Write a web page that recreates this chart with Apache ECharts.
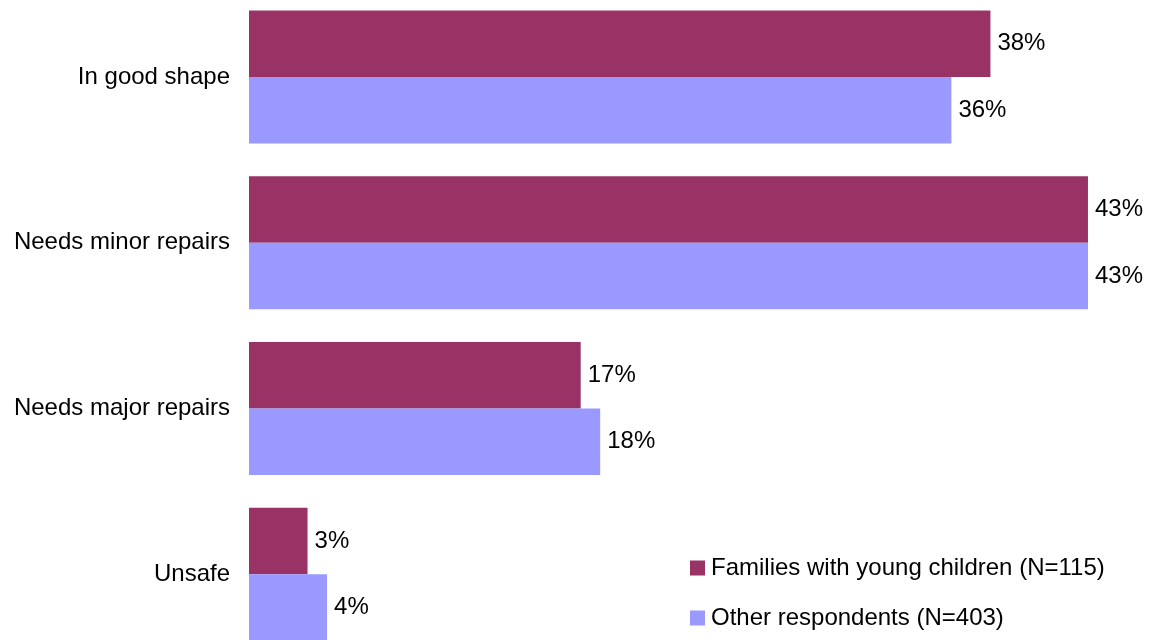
<!DOCTYPE html>
<html>
<head>
<meta charset="utf-8">
<style>
  html, body { margin: 0; padding: 0; background: #ffffff; }
  #chart { width: 1162px; height: 640px; }
</style>
<script src="https://cdn.jsdelivr.net/npm/echarts@6/dist/echarts.min.js"></script>
</head>
<body>
<div id="chart"></div>
<script>
// Housing condition, share of respondents (%)
const categories = ['In good shape', 'Needs minor repairs', 'Needs major repairs', 'Unsafe'];
const familiesValues = [38, 43, 17, 3];
const otherValues = [36, 43, 18, 4];
const seriesNames = ['Families with young children (N=115)', 'Other respondents (N=403)'];

const FONT = '"Liberation Sans", Arial, Helvetica, sans-serif';
const chart = echarts.init(document.getElementById('chart'), null, { renderer: 'canvas' });

const valueLabel = {
  show: true,
  position: 'right',
  distance: 7,
  color: '#000000',
  fontFamily: FONT,
  fontSize: 24,
  formatter: p => p.value + '%'
};

chart.setOption({
  animation: false,
  backgroundColor: '#ffffff',
  textStyle: { fontFamily: FONT },
  grid: {
    left: 249, right: 35, top: -6, bottom: -17,
    containLabel: false,
    outerBoundsMode: 'none'
  },
  legend: {
    orient: 'vertical',
    left: 690,
    top: 556,
    padding: 0,
    itemWidth: 15,
    itemHeight: 15,
    itemGap: 26,
    icon: 'rect',
    textStyle: { color: '#000000', fontFamily: FONT, fontSize: 24, lineHeight: 24, padding: [0, 0, 0, 1] },
    data: seriesNames
  },
  xAxis: {
    type: 'value',
    min: 0,
    max: 45,
    show: false,
    splitLine: { show: false }
  },
  yAxis: {
    type: 'category',
    data: categories,
    inverse: true,
    axisLine: { show: false },
    axisTick: { show: false },
    axisLabel: { color: '#000000', fontFamily: FONT, fontSize: 24, margin: 19 }
  },
  series: [
    {
      name: seriesNames[0],
      type: 'bar',
      data: familiesValues,
      barWidth: 66.5,
      barGap: '0%',
      itemStyle: { color: '#993366' },
      label: valueLabel
    },
    {
      name: seriesNames[1],
      type: 'bar',
      data: otherValues,
      barWidth: 66.5,
      barGap: '0%',
      itemStyle: { color: '#9999FF' },
      label: valueLabel
    }
  ]
});
</script>
</body>
</html>
